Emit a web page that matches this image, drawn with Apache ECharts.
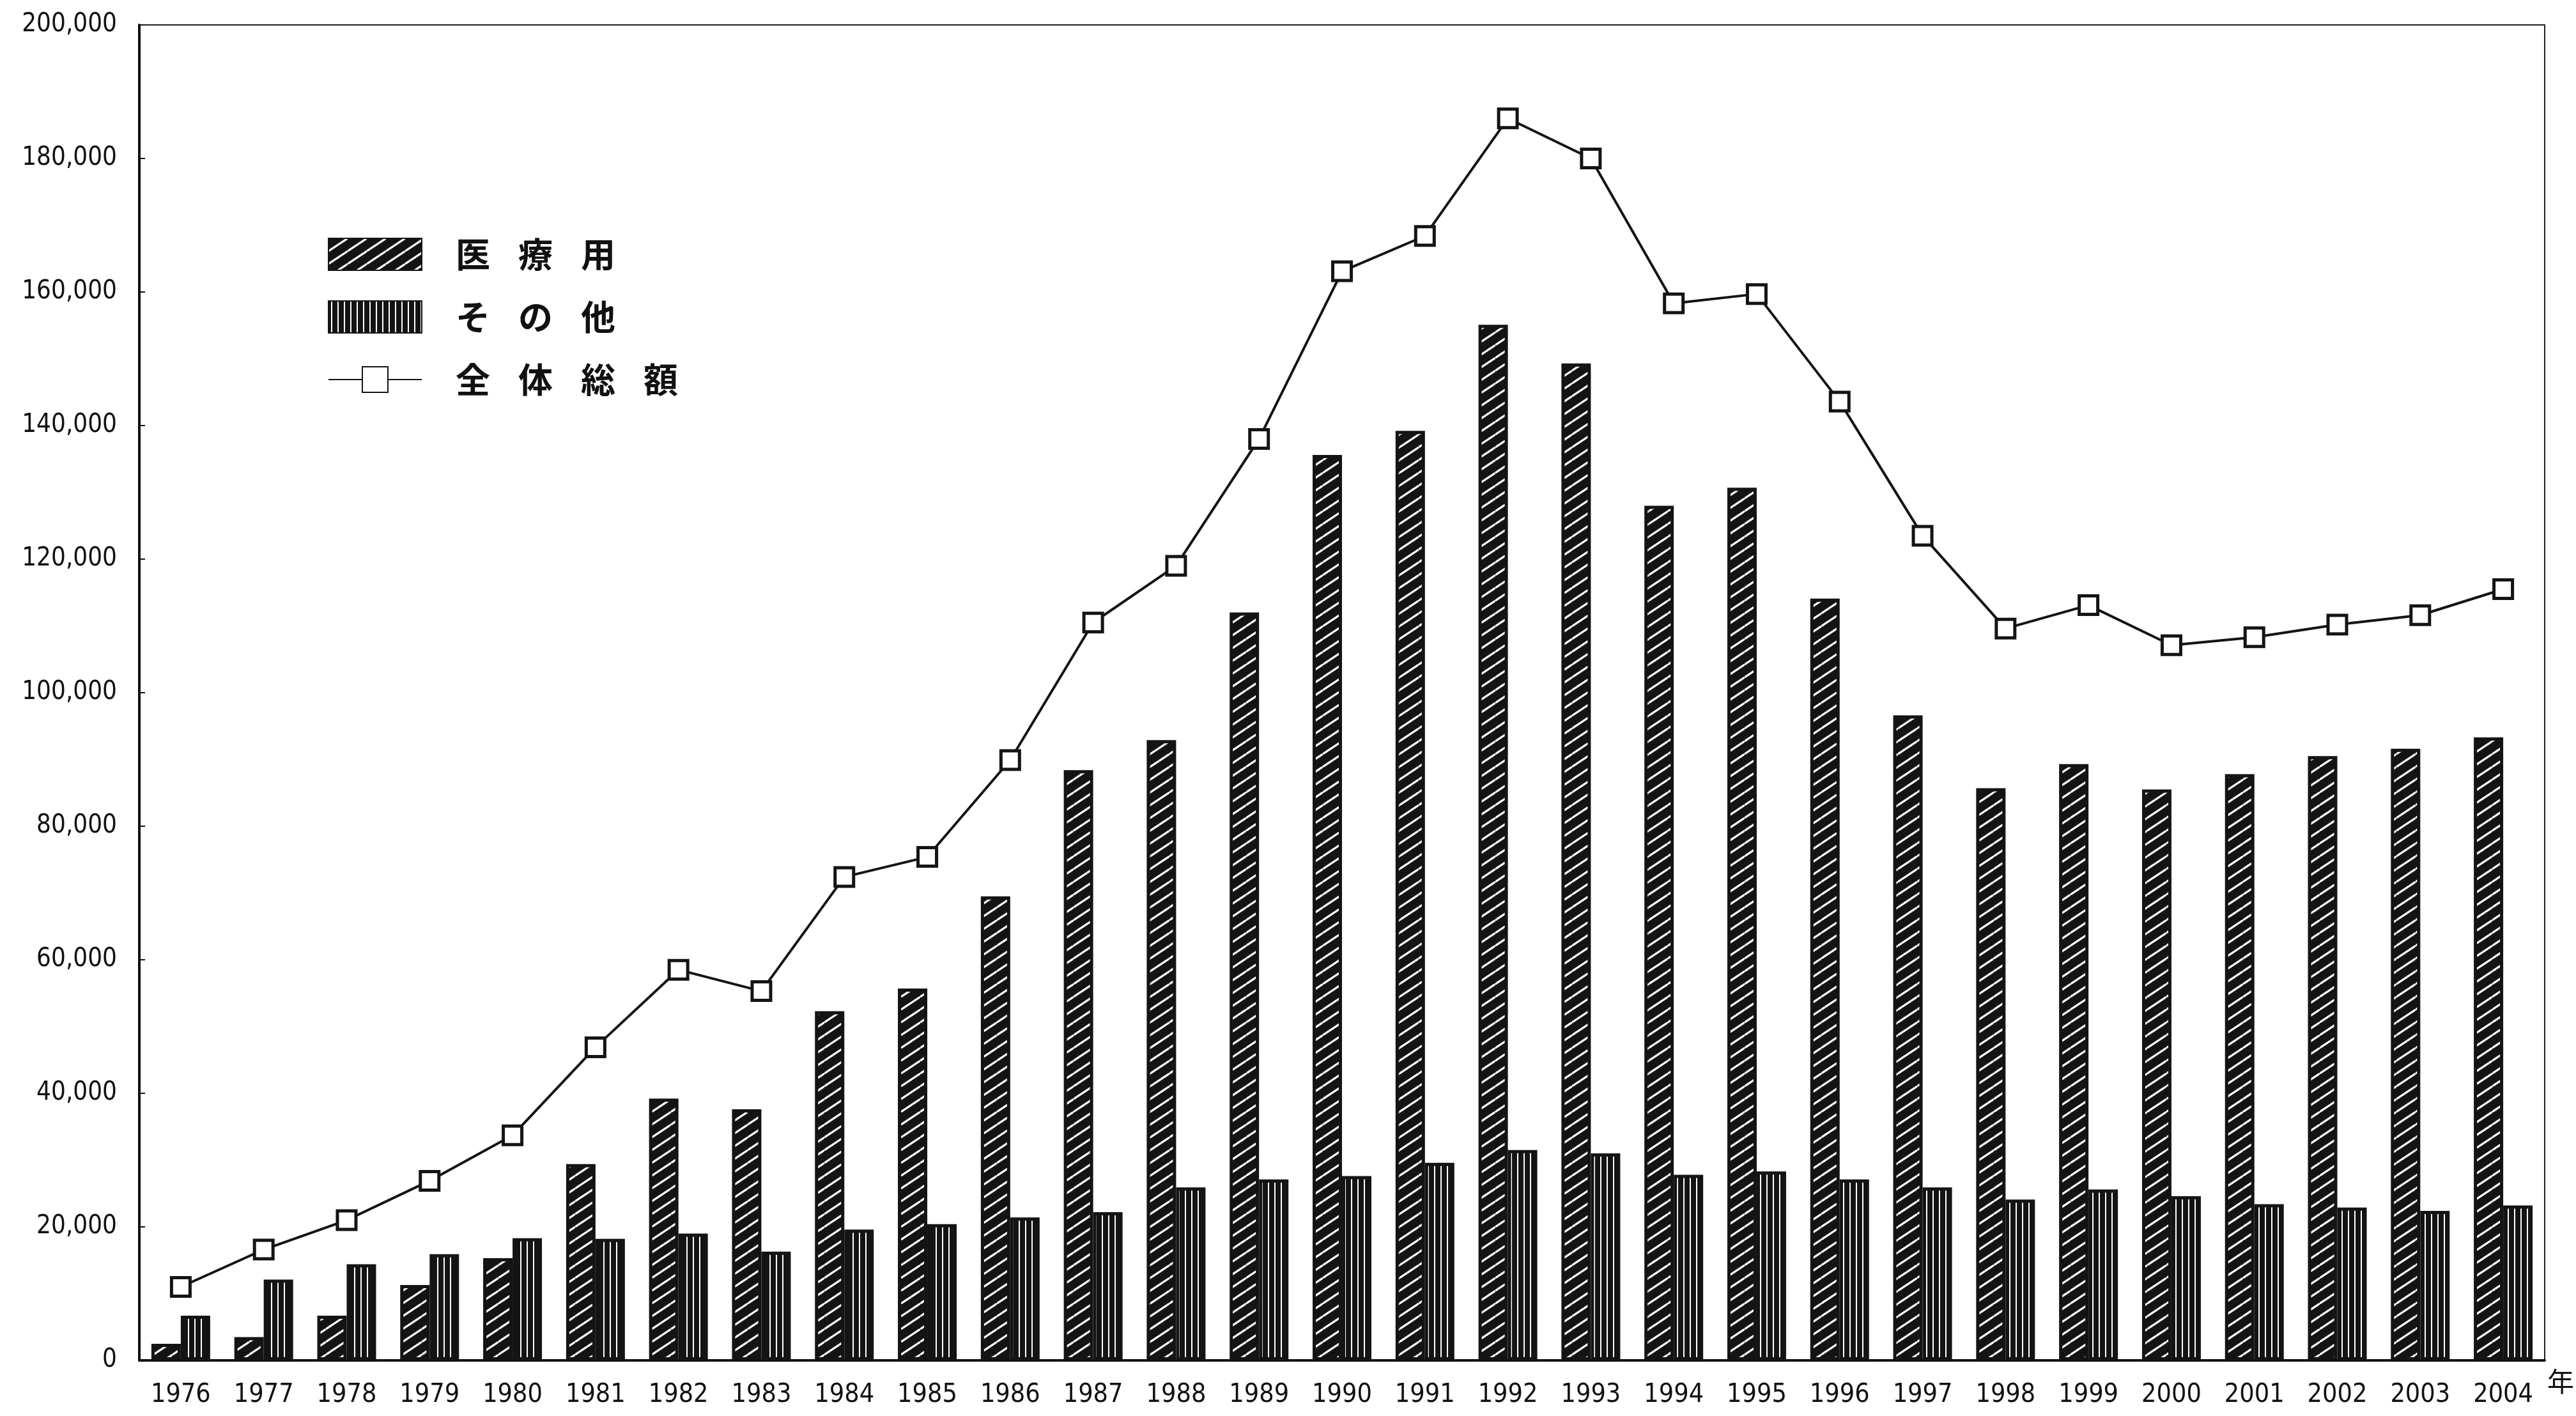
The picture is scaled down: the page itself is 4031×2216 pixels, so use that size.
<!DOCTYPE html>
<html>
<head>
<meta charset="utf-8">
<script src="https://cdn.jsdelivr.net/npm/echarts@6/dist/echarts.min.js"></script>
<style>
html,body{margin:0;padding:0;background:#fff;}
#c{width:4031px;height:2216px;}
</style>
</head>
<body>
<div id="c"></div>
<script>
const years = ['1976','1977','1978','1979','1980','1981','1982','1983','1984','1985','1986','1987','1988','1989','1990','1991','1992','1993','1994','1995','1996','1997','1998','1999','2000','2001','2002','2003','2004'];
const medical = [2500,3500,6700,11300,15300,29400,39200,37600,52300,55700,69500,88400,92900,112000,135600,139200,155100,149300,128000,130700,114100,96600,85700,89300,85500,87800,90500,91600,93300];
const other = [6700,12100,14400,15900,18300,18200,19000,16300,19600,20400,21400,22200,25900,27100,27600,29600,31500,31000,27800,28300,27100,25900,24100,25600,24600,23400,22900,22400,23200];
const total = [11000,16600,21000,26900,33700,46900,58500,55300,72400,75400,89900,110500,119000,138000,163100,168400,186000,180000,158300,159700,143600,123500,109600,113100,107100,108300,110200,111600,115500];
const seriesNames = ['医療用','その他','全体総額'];
const yTicks = {min:0, max:200000, interval:20000};

function diagPattern(){
  const w = 30, h = 20;
  const cv = document.createElement('canvas');
  cv.width = w; cv.height = h;
  const ctx = cv.getContext('2d');
  ctx.fillStyle = '#141414';
  ctx.fillRect(0,0,w,h);
  ctx.strokeStyle = '#ffffff';
  ctx.lineWidth = 3.2;
  for (let k=-1;k<=1;k++){
    ctx.beginPath();
    ctx.moveTo(0, h + k*h);
    ctx.lineTo(w, k*h);
    ctx.stroke();
  }
  return cv;
}
function vertPattern(){
  const w = 10, h = 10;
  const cv = document.createElement('canvas');
  cv.width = w; cv.height = h;
  const ctx = cv.getContext('2d');
  ctx.fillStyle = '#141414';
  ctx.fillRect(0,0,w,h);
  ctx.fillStyle = '#ffffff';
  ctx.fillRect(4,0,2,h);
  return cv;
}

const chart = echarts.init(document.getElementById('c'));
const numFont = "'Liberation Sans Narrow','DejaVu Sans Condensed','Liberation Sans',sans-serif";
const cjkFont = "'Noto Sans CJK JP','Noto Sans CJK SC',sans-serif";

chart.setOption({
  backgroundColor:'#ffffff',
  animation:false,
  grid:{left:218,right:47,top:39,bottom:87,show:true,borderColor:'#222',borderWidth:2,backgroundColor:'transparent'},
  legend:{
    orient:'vertical', left:513, top:368, padding:0,
    itemWidth:146, itemHeight:50, itemGap:38,
    data:[{name:seriesNames[0],icon:'rect'},{name:seriesNames[1],icon:'rect'},{name:seriesNames[2]}],
    formatter:function(n){return n.split('').join('{s|　}');},
    textStyle:{fontFamily:cjkFont,fontSize:54,fontWeight:'bold',color:'#111',lineHeight:60,padding:[0,0,0,48],
      rich:{s:{fontFamily:cjkFont,fontSize:44,lineHeight:60}}}
  },
  xAxis:{
    type:'category', data:years,
    axisLine:{lineStyle:{color:'#111',width:4}},
    axisTick:{show:false},
    axisLabel:{interval:0,margin:34,fontFamily:numFont,fontSize:41,color:'#111'},
    name:'年', nameLocation:'end', nameGap:4,
    nameTextStyle:{fontFamily:cjkFont,fontSize:42,color:'#111',align:'left',verticalAlign:'top',padding:[12,0,0,0]}
  },
  yAxis:{
    type:'value', min:yTicks.min, max:yTicks.max, interval:yTicks.interval,
    axisLine:{show:true,lineStyle:{color:'#111',width:4}},
    axisTick:{show:true,inside:true,length:9,lineStyle:{color:'#111',width:2}},
    splitLine:{show:false},
    axisLabel:{margin:35,fontFamily:numFont,fontSize:40,color:'#111',
      formatter:function(v){return v.toString().replace(/\B(?=(\d{3})+(?!\d))/g, ',');}}
  },
  series:[
    {name:seriesNames[0],type:'bar',data:medical,barWidth:46,barGap:'0%',
     itemStyle:{color:{image:diagPattern(),repeat:'repeat'},borderColor:'#141414',borderWidth:5}},
    {name:seriesNames[1],type:'bar',data:other,barWidth:46,barGap:'0%',
     itemStyle:{color:{image:vertPattern(),repeat:'repeat'},borderColor:'#141414',borderWidth:5}},
    {name:seriesNames[2],type:'line',data:total,z:5,
     symbol:'rect',symbolSize:29,
     lineStyle:{color:'#141414',width:4},
     itemStyle:{color:'#ffffff',borderColor:'#141414',borderWidth:5}}
  ]
});
</script>
</body>
</html>
